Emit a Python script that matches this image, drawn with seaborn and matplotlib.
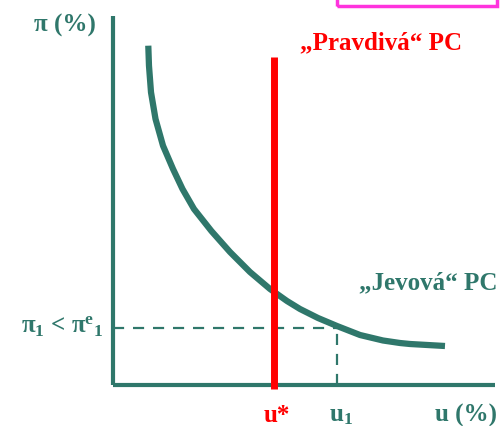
import matplotlib.pyplot as plt
import numpy as np
import pandas as pd
import seaborn as sns
from matplotlib.patches import Rectangle

# "Jevova" Phillips curve (u %, pi %)
curve_u = [0.924, 0.942, 0.995, 1.113, 1.309, 1.571, 1.819, 2.120, 2.576,
           3.063, 3.586, 4.110, 4.555, 4.895, 5.366, 5.864, 6.466, 7.068,
           7.513, 7.775, 8.691]
curve_pi = [9.195, 8.653, 7.932, 7.209, 6.485, 5.854, 5.312, 4.770, 4.173,
            3.604, 3.062, 2.602, 2.276, 2.060, 1.816, 1.599, 1.355, 1.206,
            1.138, 1.111, 1.057]

u_star = 4.21
u_star_top = 8.89
u_one = 5.86
pi_one = 1.55
axis_len = 10.0

teal = '#2f776b'
red = '#ff0000'
magenta = '#ff33dd'

sns.set_style('white')
plt.rcParams['font.family'] = ['Liberation Serif', 'DejaVu Serif']
plt.rcParams['mathtext.fontset'] = 'custom'
plt.rcParams['mathtext.bf'] = 'Liberation Serif:bold'
plt.rcParams['mathtext.rm'] = 'Liberation Serif:bold'
plt.rcParams['mathtext.default'] = 'bf'

fig = plt.figure(figsize=(5, 4.27), dpi=100)
ax = fig.add_axes([0, 0, 1, 1])
ax.set_xlim(-2.958, 10.131)
ax.set_ylim(-1.111, 10.46)
ax.axis('off')

df = pd.DataFrame({'u': curve_u, 'pi': curve_pi})
sns.lineplot(data=df, x='u', y='pi', ax=ax, color=teal, lw=4.5,
             sort=False, solid_capstyle='butt', solid_joinstyle='round')

# axes of the diagram
ax.plot([0, 0], [0, axis_len], color=teal, lw=3, solid_capstyle='butt')
ax.plot([0, axis_len], [0, 0], color=teal, lw=3, solid_capstyle='butt')

# dashed guides
ax.plot([0, u_one], [pi_one, pi_one], color=teal, lw=1.6, ls=(0, (5, 4)))
ax.plot([u_one, u_one], [0, pi_one], color=teal, lw=1.6, ls=(0, (5, 4)))

# "true" long-run Phillips curve
ax.plot([u_star, u_star], [-0.1, u_star_top], color=red, lw=5,
        solid_capstyle='butt')

bold = dict(fontweight='bold', fontsize=18)
ax.text(-1.26, 9.78, 'π (%)', color=teal, ha='center', va='center', **bold)
ax.text(4.9, 9.3, '\u201ePravdivá\u201c PC', color=red, ha='left',
        va='center', **bold)
ax.text(6.45, 2.8, '\u201eJevová\u201c PC', color=teal, ha='left',
        va='center', **bold)
ax.text(-1.33, 1.6, 'π$_1$ < π$^e$$_1$', color=teal, ha='center',
        va='center', **bold)
ax.text(4.29, -0.79, 'u*', color=red, ha='center', va='center', **bold)
ax.text(5.97, -0.79, 'u$_1$', color=teal, ha='center', va='center', **bold)
ax.text(9.24, -0.79, 'u (%)', color=teal, ha='center', va='center', **bold)

# edge of the frame cut off at the top
fig.patches.append(Rectangle((0.674, 0.984), 0.32, 0.1, fill=False,
                             edgecolor=magenta, lw=2.5,
                             transform=fig.transFigure, figure=fig))

fig.savefig('out.png', dpi=100)
